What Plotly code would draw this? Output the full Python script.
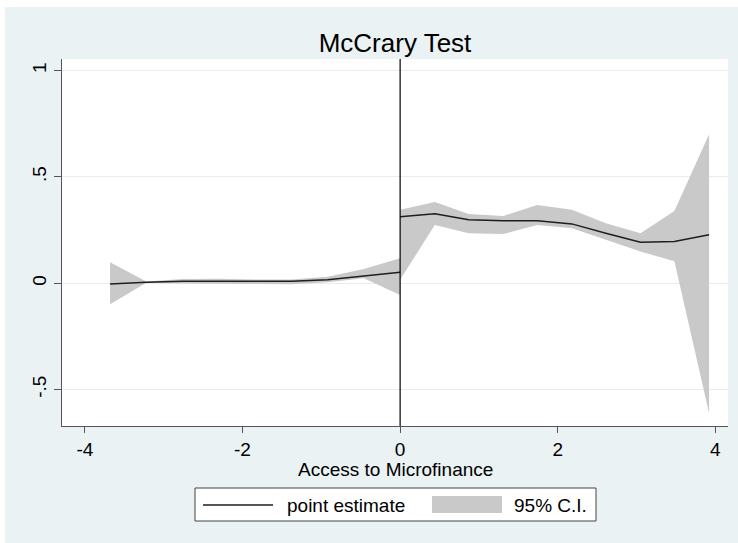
import plotly.graph_objects as go

# ---- data ----
x_left = [-3.68, -3.22, -2.76, -2.30, -1.84, -1.38, -0.92, -0.46, 0.0]
est_left = [-0.003, 0.005, 0.009, 0.009, 0.008, 0.009, 0.017, 0.036, 0.052]
hi_left = [0.099, 0.008, 0.020, 0.021, 0.018, 0.018, 0.030, 0.067, 0.118]
lo_left = [-0.099, 0.002, -0.001, -0.002, -0.002, -0.005, 0.005, 0.023, -0.055]

x_right = [0.0, 0.44, 0.87, 1.31, 1.74, 2.18, 2.61, 3.05, 3.48, 3.92]
est_right = [0.313, 0.327, 0.298, 0.294, 0.294, 0.279, 0.235, 0.193, 0.196, 0.228]
hi_right = [0.346, 0.382, 0.326, 0.316, 0.368, 0.345, 0.282, 0.235, 0.340, 0.700]
lo_right = [0.016, 0.274, 0.235, 0.232, 0.274, 0.259, 0.204, 0.149, 0.103, -0.611]

x_ticks = [-4, -2, 0, 2, 4]
x_ticklabels = ["-4", "-2", "0", "2", "4"]
y_ticks = [-0.5, 0, 0.5, 1]
y_ticklabels = ["-.5", "0", ".5", "1"]
legend_labels = ["point estimate", "95% C.I."]

FONT = "Liberation Sans, Arial, sans-serif"
FILL = "#C9C9C9"
LINE = "#1e1e1e"
BG = "#EAF2F3"

# pixel -> paper helpers (plot area: x 62..728, y 59..426)
L, R, T, B = 62, 728, 59, 426


def px(v):
    return (v - L) / float(R - L)


def py(v):
    return (B - v) / float(B - T)


fig = go.Figure()

for xs, hi, lo in [(x_left, hi_left, lo_left), (x_right, hi_right, lo_right)]:
    fig.add_trace(go.Scatter(
        x=xs + xs[::-1], y=hi + lo[::-1],
        fill="toself", fillcolor=FILL, mode="lines",
        line=dict(width=0, color=FILL),
        name=legend_labels[1], showlegend=False, hoverinfo="skip",
    ))

for xs, ys in [(x_left, est_left), (x_right, est_right)]:
    fig.add_trace(go.Scatter(
        x=xs, y=ys, mode="lines",
        line=dict(color=LINE, width=1.5),
        name=legend_labels[0], showlegend=False,
    ))

# vertical line at cutoff
fig.add_shape(type="line", xref="x", yref="paper", x0=0, x1=0, y0=0, y1=1,
              line=dict(color="black", width=1.2))

# white outer border strips (image edge)
fig.add_shape(type="rect", xref="paper", yref="paper", x0=-0.2, x1=1.2,
              y0=py(7), y1=1.5, fillcolor="white", line_width=0, layer="below")
fig.add_shape(type="rect", xref="paper", yref="paper", x0=-0.2, x1=px(5),
              y0=-0.5, y1=1.5, fillcolor="white", line_width=0, layer="below")

# manual legend (box, line sample, fill swatch, labels)
fig.add_shape(type="rect", xref="paper", yref="paper", x0=px(195), x1=px(596),
              y0=py(521), y1=py(488), fillcolor="white",
              line=dict(color="#444444", width=1))
fig.add_shape(type="line", xref="paper", yref="paper", x0=px(203), x1=px(273),
              y0=py(505), y1=py(505), line=dict(color=LINE, width=1.5))
fig.add_shape(type="rect", xref="paper", yref="paper", x0=px(432), x1=px(502),
              y0=py(513), y1=py(496), fillcolor=FILL, line=dict(width=0))
fig.add_annotation(xref="paper", yref="paper", x=px(285), y=py(505),
                   xanchor="left", yanchor="middle", text=legend_labels[0],
                   showarrow=False, font=dict(size=19, family=FONT, color="black"))
fig.add_annotation(xref="paper", yref="paper", x=px(512), y=py(505),
                   xanchor="left", yanchor="middle", text=legend_labels[1],
                   showarrow=False, font=dict(size=19, family=FONT, color="black"))

# x-axis title
fig.add_annotation(xref="paper", yref="paper", x=px(395), y=py(469),
                   xanchor="center", yanchor="middle", text="Access to Microfinance",
                   showarrow=False, font=dict(size=19, family=FONT, color="black"))

fig.update_layout(
    width=738, height=543,
    margin=dict(l=L, r=738 - R, t=T, b=543 - B),
    paper_bgcolor=BG, plot_bgcolor="white",
    font=dict(family=FONT, color="black", size=19),
    showlegend=False,
    title=dict(text="McCrary Test", x=0.5, xref="paper", xanchor="center",
               y=1 - 43 / 543.0, yref="container", yanchor="middle",
               font=dict(size=26, family=FONT, color="black")),
    xaxis=dict(range=[-4.29, 4.16], tickvals=x_ticks, ticktext=x_ticklabels,
               showgrid=False, zeroline=False, showline=True, linecolor="#555555",
               linewidth=1, ticks="outside", ticklen=6, tickcolor="#555555",
               tickfont=dict(size=19)),
    yaxis=dict(range=[-0.671, 1.054], tickvals=y_ticks, ticktext=y_ticklabels,
               showgrid=True, gridcolor="#E4EEF0", gridwidth=1, zeroline=False,
               showline=True, linecolor="#555555", linewidth=1, ticks="outside",
               ticklen=7, tickcolor="#555555", tickangle=-90, tickfont=dict(size=19)),
)

fig.write_html("out.html", config={"displayModeBar": False},
               post_script="document.body.style.margin='0';document.body.style.overflow='hidden';")
